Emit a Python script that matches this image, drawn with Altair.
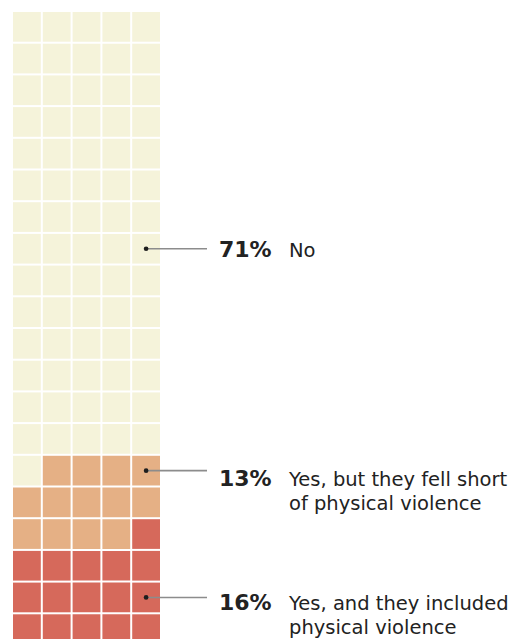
import altair as alt
import pandas as pd

# ---- data -------------------------------------------------------------
categories = [
    "Yes, and they included physical violence",
    "Yes, but they fell short of physical violence",
    "No",
]
shares = [16, 13, 71]
pct_labels = ["16%", "13%", "71%"]
desc_labels = [
    "Yes, and they included\nphysical violence",
    "Yes, but they fell short\nof physical violence",
    "No",
]
colors = ["#D6695B", "#E5B085", "#F5F3DA"]
callout_rows = [18, 14, 7]  # grid row (from top) holding each callout dot
n_cols = 5
n_rows = 20

# ---- build tables -----------------------------------------------------
cells = []
k = 0
for cat, n in zip(categories, shares):
    for _ in range(n):
        row_from_bottom = k // n_cols
        col = n_cols - 1 - (k % n_cols)
        r = n_rows - 1 - row_from_bottom
        cells.append({"cat": cat, "col": col, "col2": col + 1, "row": r, "row2": r + 1})
        k += 1
cells_df = pd.DataFrame(cells)

ann_df = pd.DataFrame({
    "cat": categories,
    "cx": [n_cols - 0.5] * len(categories),
    "cy": [r + 0.5 for r in callout_rows],
    "pct": pct_labels,
    "desc": desc_labels,
})

W = 149
H = 634
xs = alt.Scale(domain=[0, n_cols], nice=False, zero=False)
ys = alt.Scale(domain=[0, n_rows], nice=False, zero=False, reverse=True)
color_scale = alt.Scale(domain=categories, range=colors)

grid = alt.Chart(cells_df).mark_rect(x2Offset=-2, y2Offset=-2).encode(
    x=alt.X("col:Q", scale=xs, axis=None),
    x2="col2:Q",
    y=alt.Y("row:Q", scale=ys, axis=None),
    y2="row2:Q",
    color=alt.Color("cat:N", scale=color_scale, legend=None),
)

rules = alt.Chart(ann_df).mark_rule(color="#8c8c8c", strokeWidth=1.6, yOffset=-1, xOffset=-1).encode(
    x=alt.X("cx:Q", scale=xs, axis=None),
    x2=alt.value(194),
    y=alt.Y("cy:Q", scale=ys, axis=None),
)

dots = alt.Chart(ann_df).mark_circle(color="#1e1e1e", opacity=1, size=22, xOffset=-1, yOffset=-1).encode(
    x=alt.X("cx:Q", scale=xs, axis=None),
    y=alt.Y("cy:Q", scale=ys, axis=None),
)

text_dy = {"16%": 12, "13%": 14, "71%": 7}
text_layers = []
for p in pct_labels:
    sub = ann_df[ann_df["pct"] == p]
    text_layers.append(
        alt.Chart(sub).mark_text(
            align="left", baseline="alphabetic", dy=text_dy[p],
            font="DejaVu Sans", fontWeight="bold", fontSize=22, color="#222222",
        ).encode(x=alt.value(206), y=alt.Y("cy:Q", scale=ys, axis=None), text="pct:N")
    )
    text_layers.append(
        alt.Chart(sub).mark_text(
            align="left", baseline="alphabetic", dy=text_dy[p],
            font="DejaVu Sans", fontSize=19.5, color="#222222",
            lineBreak="\n", lineHeight=24,
        ).encode(x=alt.value(276), y=alt.Y("cy:Q", scale=ys, axis=None), text="desc:N")
    )

chart = alt.layer(grid, rules, dots, *text_layers).properties(
    width=W, height=H,
    padding={"left": 5, "top": 4, "right": 0, "bottom": 0},
    background="white",
).configure_view(strokeWidth=0)

chart.save("out.html", embed_options={"renderer": "svg", "actions": False})
